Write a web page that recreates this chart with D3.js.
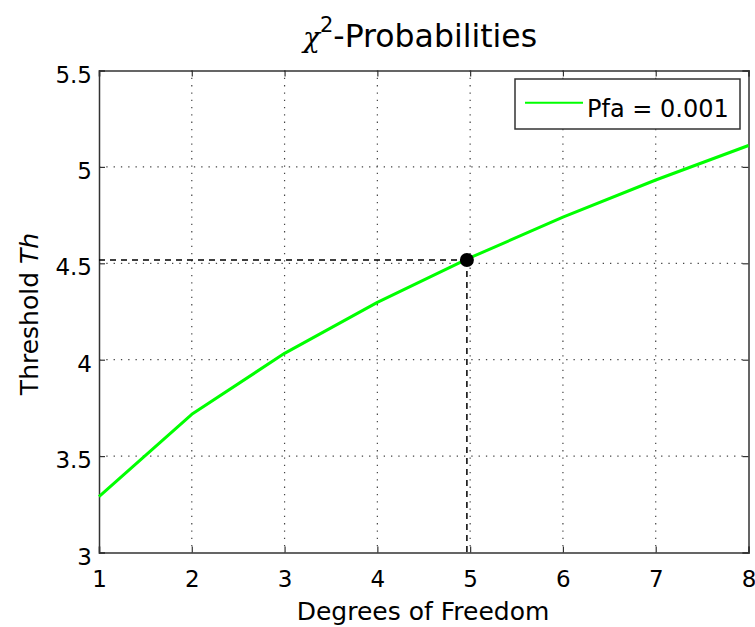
<!DOCTYPE html>
<html>
<head>
<meta charset="utf-8">
<script src="https://cdn.jsdelivr.net/npm/d3@7"></script>
<style>
  html, body { margin: 0; padding: 0; background: #fff; }
  svg { display: block; font-family: "DejaVu Sans", Verdana, sans-serif; }
</style>
</head>
<body>
<svg id="chart" width="755" height="627"></svg>
<script>
// Degrees of freedom and the matching threshold for a false-alarm probability of 0.001
const degrees = [1, 2, 3, 4, 5, 6, 7, 8];
const thresholds = [3.290, 3.717, 4.033, 4.297, 4.529, 4.739, 4.932, 5.111];
// Highlighted operating point
const pointDof = [4.965];
const pointTh = [4.517];
const xTicks = [1, 2, 3, 4, 5, 6, 7, 8];
const yTicks = [3, 3.5, 4, 4.5, 5, 5.5];
const seriesName = "Pfa = 0.001";

const svg = d3.select("#chart");
const m = { left: 99, right: 748.5, top: 70.5, bottom: 552.5 };

const x = d3.scaleLinear().domain([1, 8]).range([m.left, m.right]);
const y = d3.scaleLinear().domain([3, 5.5]).range([m.bottom, m.top]);

const axisColor = "#333";
const font = "'DejaVu Sans', Verdana, sans-serif";

// dotted grid
const grid = svg.append("g");
grid.selectAll("line.gx").data(xTicks.slice(1, -1)).join("line")
  .attr("x1", d => x(d)).attr("x2", d => x(d))
  .attr("y1", m.top).attr("y2", m.bottom)
  .attr("stroke", "#444").attr("stroke-width", 1.2).attr("stroke-dasharray", "1.3,6");
grid.selectAll("line.gy").data(yTicks.slice(1, -1)).join("line")
  .attr("x1", m.left).attr("x2", m.right)
  .attr("y1", d => y(d)).attr("y2", d => y(d))
  .attr("stroke", "#444").attr("stroke-width", 1.2).attr("stroke-dasharray", "1.3,6");

// axes with inward ticks on all four sides
const fmt = d => d3.format("~g")(d);
const xAxis = svg.append("g").attr("transform", `translate(0,${m.bottom})`)
  .call(d3.axisBottom(x).tickValues(xTicks).tickSize(-6).tickPadding(18).tickFormat(fmt));
const xTop = svg.append("g").attr("transform", `translate(0,${m.top})`)
  .call(d3.axisTop(x).tickValues(xTicks).tickSize(-6).tickFormat(""));
const yAxis = svg.append("g").attr("transform", `translate(${m.left},0)`)
  .call(d3.axisLeft(y).tickValues(yTicks).tickSize(-6).tickPadding(7).tickFormat(fmt));
const yRight = svg.append("g").attr("transform", `translate(${m.right},0)`)
  .call(d3.axisRight(y).tickValues(yTicks).tickSize(-6).tickFormat(""));

[xAxis, xTop, yAxis, yRight].forEach(g => {
  g.select(".domain").attr("stroke", axisColor).attr("stroke-width", 1.5);
  g.selectAll(".tick line").attr("stroke", axisColor).attr("stroke-width", 1.2);
  g.selectAll(".tick text").attr("fill", "#000").attr("font-size", 23)
    .attr("font-family", font);
});
yAxis.selectAll(".tick text").attr("dy", "0.5em");

// dashed guides to the operating point
svg.append("line")
  .attr("x1", m.left).attr("x2", x(pointDof[0]))
  .attr("y1", y(pointTh[0])).attr("y2", y(pointTh[0]))
  .attr("stroke", "#000").attr("stroke-width", 1.5).attr("stroke-dasharray", "6,5");
svg.append("line")
  .attr("x1", x(pointDof[0])).attr("x2", x(pointDof[0]))
  .attr("y1", y(pointTh[0])).attr("y2", m.bottom)
  .attr("stroke", "#000").attr("stroke-width", 1.5).attr("stroke-dasharray", "6,5");

// threshold curve
const line = d3.line().x((d, i) => x(degrees[i])).y(d => y(d));
svg.append("path").datum(thresholds)
  .attr("d", line).attr("fill", "none")
  .attr("stroke", "#00ff00").attr("stroke-width", 3).attr("stroke-linejoin", "round");

// operating point marker
svg.selectAll("circle.pt").data(pointDof).join("circle")
  .attr("cx", d => x(d)).attr("cy", (d, i) => y(pointTh[i]))
  .attr("r", 7).attr("fill", "#000");

// legend
const lg = svg.append("g");
lg.append("rect").attr("x", 515).attr("y", 79).attr("width", 225).attr("height", 50)
  .attr("fill", "#fff").attr("stroke", axisColor).attr("stroke-width", 1.5);
lg.append("line").attr("x1", 525).attr("x2", 583).attr("y1", 102.7).attr("y2", 102.7)
  .attr("stroke", "#00ff00").attr("stroke-width", 2);
lg.append("text").attr("x", 587).attr("y", 117).attr("font-size", 24).text(seriesName);

// title
const title = svg.append("text").attr("x", 420).attr("y", 47)
  .attr("text-anchor", "middle").attr("font-size", 31.5);
title.append("tspan").attr("font-family", "'DejaVu Serif', serif").attr("font-style", "italic").attr("font-size", 28).text("χ");
title.append("tspan").attr("font-size", 21).attr("dy", -15).text("2");
title.append("tspan").attr("dy", 15).text("-Probabilities");

// axis labels
svg.append("text").attr("x", 423).attr("y", 620).attr("text-anchor", "middle")
  .attr("font-size", 25).text("Degrees of Freedom");
const yl = svg.append("text").attr("transform", "translate(37.5,314) rotate(-90)")
  .attr("text-anchor", "middle").attr("font-size", 25);
yl.append("tspan").text("Threshold ");
yl.append("tspan").attr("font-style", "italic").text("Th");
</script>
</body>
</html>
